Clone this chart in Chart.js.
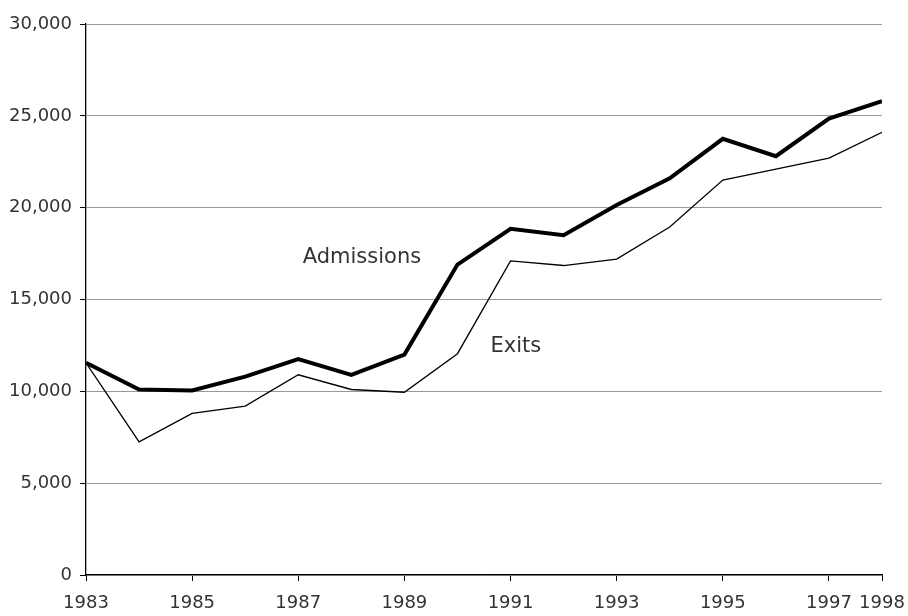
<!DOCTYPE html>
<html>
<head>
<meta charset="utf-8">
<script src="https://cdn.jsdelivr.net/npm/chart.js@4"></script>
<style>
  body { margin: 0; background: #fff; }
  #wrap { width: 908px; height: 616px; }
</style>
</head>
<body>
<div id="wrap"><canvas id="lineChart"></canvas></div>
<script>
var years = [1983, 1984, 1985, 1986, 1987, 1988, 1989, 1990, 1991, 1992, 1993, 1994, 1995, 1996, 1997, 1998];
var admissions = [11550, 10100, 10050, 10800, 11750, 10900, 12000, 16900, 18850, 18500, 20150, 21600, 23750, 22800, 24850, 25800];
var exits = [11550, 7250, 8800, 9200, 10900, 10100, 9950, 12050, 17100, 16850, 17200, 18950, 21500, 22100, 22700, 24100];
var yearTicks = [1983, 1985, 1987, 1989, 1991, 1993, 1995, 1997, 1998];

// series names written inside the plot
var seriesLabels = [
  { text: 'Admissions', x: 1988.2, y: 17300 },
  { text: 'Exits', x: 1991.1, y: 12450 }
];

function toPoints(values)
{
  var pts = [];
  for (var i = 0; i < years.length; i++)
    pts.push({ x: years[i], y: values[i] });
  return pts;
}

var labelPlugin = {
  id: 'seriesText',
  afterDatasetsDraw: function(chart)
  {
    var ctx = chart.ctx;
    var xs = chart.scales.x;
    var ys = chart.scales.y;
    ctx.save();
    ctx.font = '21px "DejaVu Sans"';
    ctx.fillStyle = '#333';
    ctx.textAlign = 'center';
    ctx.textBaseline = 'middle';
    for (var i = 0; i < seriesLabels.length; i++)
      ctx.fillText(seriesLabels[i].text, xs.getPixelForValue(seriesLabels[i].x), ys.getPixelForValue(seriesLabels[i].y));
    ctx.restore();
  }
};

var tickFont = { family: 'DejaVu Sans', size: 18 };

var chart = new Chart(document.getElementById('lineChart').getContext('2d'), {
  type: 'line',
  data: {
    datasets: [
      { label: 'Admissions', data: toPoints(admissions), borderColor: '#000', borderWidth: 4, pointRadius: 0, tension: 0 },
      { label: 'Exits', data: toPoints(exits), borderColor: '#000', borderWidth: 1.3, pointRadius: 0, tension: 0 }
    ]
  },
  options: {
    responsive: true,
    maintainAspectRatio: false,
    animation: false,
    layout: { padding: { top: 24, right: 26, left: 0, bottom: 0 } },
    plugins: { legend: { display: false }, tooltip: { enabled: false } },
    scales: {
      x: {
        type: 'linear',
        min: 1983,
        max: 1998,
        afterBuildTicks: function(scale) {
          scale.ticks = yearTicks.map(function(v) { return { value: v }; });
        },
        afterFit: function(scale) {
          scale.height = 41;
          scale.paddingLeft = 0;
          scale.paddingRight = 0;
        },
        ticks: { color: '#333', font: tickFont, padding: 12, maxRotation: 0, autoSkip: false,
          callback: function(v) { return String(v); } },
        grid: { drawOnChartArea: false, drawTicks: true, tickLength: 6, color: '#000', lineWidth: 1 },
        border: { color: '#000', width: 1.3 }
      },
      y: {
        min: 0,
        max: 30000,
        afterFit: function(scale) {
          scale.width = 86;
          scale.paddingTop = 0;
          scale.paddingBottom = 0;
        },
        ticks: { stepSize: 5000, color: '#333', font: tickFont, padding: 8,
          callback: function(v) { return v.toLocaleString('en-US'); } },
        grid: { color: '#999', lineWidth: 1, tickLength: 6, tickColor: '#000' },
        border: { color: '#000', width: 1.3 }
      }
    }
  },
  plugins: [labelPlugin]
});
</script>
</body>
</html>
